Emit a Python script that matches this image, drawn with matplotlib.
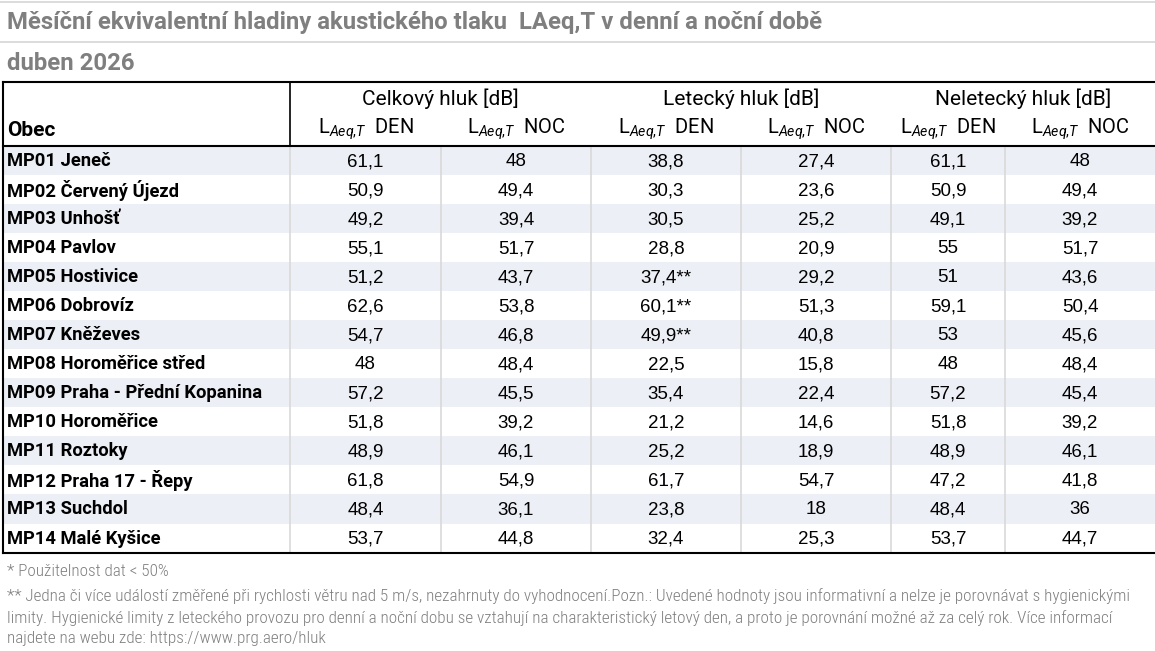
import matplotlib
matplotlib.use('Agg')
import matplotlib.pyplot as plt

plt.rcParams['mathtext.fontset'] = 'custom'
plt.rcParams['mathtext.rm'] = 'Roboto'
plt.rcParams['mathtext.it'] = 'Roboto:italic'

title = 'Měsíční ekvivalentní hladiny akustického tlaku  LAeq,T v denní a noční době'
subtitle = 'duben 2026'
groups = ['Celkový hluk [dB]', 'Letecký hluk [dB]', 'Neletecký hluk [dB]']
subheads = [r'L$_{\mathit{Aeq{,}T}}$  DEN', r'L$_{\mathit{Aeq{,}T}}$  NOC']
obce = ['MP01 Jeneč', 'MP02 Červený Újezd', 'MP03 Unhošť', 'MP04 Pavlov',
        'MP05 Hostivice', 'MP06 Dobrovíz', 'MP07 Kněževes', 'MP08 Horoměřice střed',
        'MP09 Praha - Přední Kopanina', 'MP10 Horoměřice', 'MP11 Roztoky',
        'MP12 Praha 17 - Řepy', 'MP13 Suchdol', 'MP14 Malé Kyšice']
celk_den = [61.1, 50.9, 49.2, 55.1, 51.2, 62.6, 54.7, 48, 57.2, 51.8, 48.9, 61.8, 48.4, 53.7]
celk_noc = [48, 49.4, 39.4, 51.7, 43.7, 53.8, 46.8, 48.4, 45.5, 39.2, 46.1, 54.9, 36.1, 44.8]
let_den = [38.8, 30.3, 30.5, 28.8, 37.4, 60.1, 49.9, 22.5, 35.4, 21.2, 25.2, 61.7, 23.8, 32.4]
let_noc = [27.4, 23.6, 25.2, 20.9, 29.2, 51.3, 40.8, 15.8, 22.4, 14.6, 18.9, 54.7, 18, 25.3]
nelet_den = [61.1, 50.9, 49.1, 55, 51, 59.1, 53, 48, 57.2, 51.8, 48.9, 47.2, 48.4, 53.7]
nelet_noc = [48, 49.4, 39.2, 51.7, 43.6, 50.4, 45.6, 48.4, 45.4, 39.2, 46.1, 41.8, 36, 44.7]
# rows where letecky DEN is marked with **
let_den_flag = [False, False, False, False, True, True, True, False, False, False, False, False, False, False]
notes = ['* Použitelnost dat < 50%',
         '** Jedna či více událostí změřené při rychlosti větru nad 5 m/s, nezahrnuty do vyhodnocení.Pozn.: Uvedené hodnoty jsou informativní a nelze je porovnávat s hygienickými',
         'limity. Hygienické limity z leteckého provozu pro denní a noční dobu se vztahují na charakteristický letový den, a proto je porovnání možné až za celý rok. Více informací',
         'najdete na webu zde: https://www.prg.aero/hluk']

columns = [celk_den, celk_noc, let_den, let_noc, nelet_den, nelet_noc]

W, H = 1155, 651
fig = plt.figure(figsize=(W / 100, H / 100), dpi=100)
ax = fig.add_axes([0, 0, 1, 1])
ax.set_xlim(0, W)
ax.set_ylim(H, 0)
ax.axis('off')

narrow = ['Roboto Condensed', 'DejaVu Sans']
wide = ['Roboto', 'DejaVu Sans']
grey = '#7f7f7f'
shade = '#eceff6'
gridc = '#d9d9d9'

# column edges (px)
edges = [290, 441, 591, 741, 891, 1005, W]
top, head_bot = 82, 146
rh = 29.04
bot = head_bot + rh * len(obce)

# excel gridlines above the table
for y in [2, 42]:
    ax.plot([0, W], [y, y], color=gridc, lw=1.3)

ax.text(7, 22, title, fontsize=17.2, fontweight='bold', color=grey, family=wide, va='center')
ax.text(7, 63, subtitle, fontsize=17.2, fontweight='bold', color=grey, family=wide, va='center')

# light vertical lines in the body
for x in edges[:-1]:
    ax.plot([x, x], [head_bot, bot], color=gridc, lw=1.2)

# shaded rows
for i in range(len(obce)):
    y0 = head_bot + i * rh
    if i % 2 == 0:
        ax.add_patch(plt.Rectangle((3, y0), W - 3, rh, color=shade, lw=0))

# header
ax.text(7, 131, 'Obec', fontsize=15, fontweight='bold', family=wide, va='center')
gx = [(edges[0] + edges[2]) / 2, (edges[2] + edges[4]) / 2, (edges[4] + edges[6]) / 2]
for g, x in zip(groups, gx):
    ax.text(x, 99, g, fontsize=15, family=wide, ha='center', va='center')
for j in range(6):
    cx = (edges[j] + edges[j + 1]) / 2
    ax.text(cx, 129, subheads[j % 2], fontsize=14.5, family=wide, ha='center', va='center')

# body
for i, name in enumerate(obce):
    cy = head_bot + (i + 0.5) * rh
    ax.text(7, cy + 0.5, name, fontsize=13.2, fontweight='bold', family=wide, va='center')
    for j, col in enumerate(columns):
        s = f'{col[i]:g}'.replace('.', ',')
        if j == 2 and let_den_flag[i]:
            s += '**'
        cx = (edges[j] + edges[j + 1]) / 2
        ax.text(cx, cy + 1, s, fontsize=13.5, family='Liberation Sans', ha='center', va='center')

# black borders
ax.plot([3, W], [top, top], color='black', lw=1.5)
ax.plot([3, W], [head_bot, head_bot], color='black', lw=1.5)
ax.plot([3, W], [bot, bot], color='black', lw=1.5)
ax.plot([3, 3], [top, bot], color='black', lw=1.5)
ax.plot([290, 290], [top, head_bot], color='black', lw=1.2)

# footnotes
for t, y in zip(notes, [572, 596, 618, 638]):
    ax.text(7, y, t, fontsize=12.3, fontweight='light', color=grey, family=narrow, va='center')

fig.savefig('out.png', dpi=100)
